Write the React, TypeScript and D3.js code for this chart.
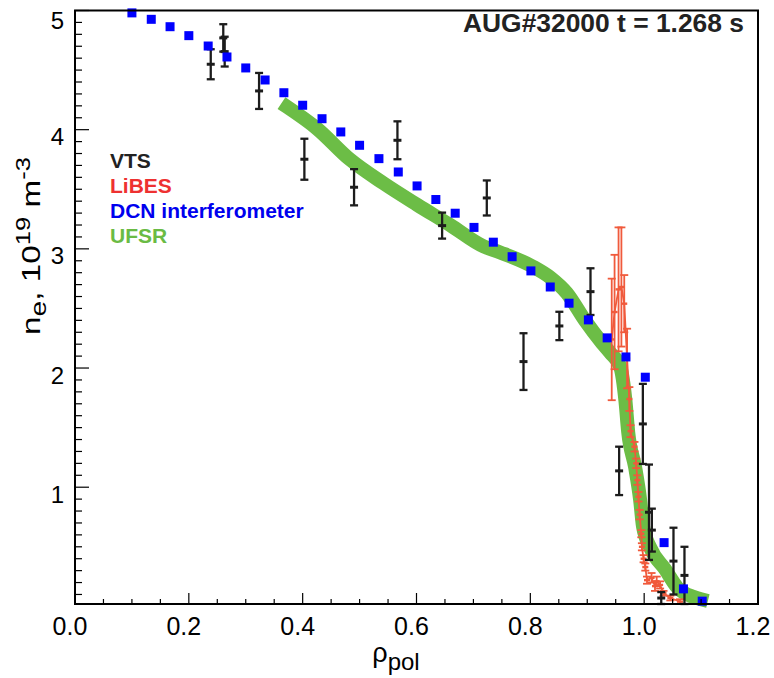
import React from 'react';
import * as d3 from 'd3';

const W = 774;
const H = 678;
const FONT = "'Liberation Sans', Arial, Helvetica, sans-serif";

// DCN interferometer
const dcnRho = [0.100, 0.134, 0.167, 0.200, 0.234, 0.267, 0.300, 0.334, 0.367, 0.400, 0.434, 0.467, 0.500, 0.534, 0.568, 0.601, 0.634, 0.668, 0.701, 0.735, 0.768, 0.801, 0.835, 0.868, 0.902, 0.935, 0.968, 1.002, 1.035, 1.069, 1.102];
const dcnNe = [4.98, 4.926, 4.864, 4.789, 4.702, 4.61, 4.518, 4.417, 4.31, 4.205, 4.092, 3.981, 3.869, 3.757, 3.645, 3.528, 3.414, 3.299, 3.18, 3.056, 2.934, 2.815, 2.68, 2.544, 2.404, 2.253, 2.093, 1.923, 0.535, 0.147, 0.044];

// UFSR (reflectometry) profile
const ufsrRho = [0.373, 0.425, 0.483, 0.542, 0.601, 0.659, 0.718, 0.747, 0.805, 0.835, 0.864, 0.896, 0.926, 0.940, 0.958, 0.967, 0.972, 0.984, 0.993, 0.998, 1.011, 1.037, 1.058, 1.086, 1.100];
const ufsrNe = [4.19, 4.01, 3.75, 3.55, 3.37, 3.20, 3.02, 2.97, 2.85, 2.76, 2.63, 2.40, 2.21, 2.13, 2.01, 1.73, 1.46, 1.17, 0.89, 0.67, 0.49, 0.31, 0.16, 0.08, 0.06];

// VTS (Thomson scattering)
const vtsRho = [0.2385, 0.2605, 0.263, 0.3234, 0.403, 0.4903, 0.5665, 0.645, 0.7235, 0.788, 0.851, 0.9057, 0.956, 0.9977, 1.0085, 1.0135, 1.030, 1.0515, 1.0708];
const vtsNe = [4.549, 4.77, 4.655, 4.325, 3.752, 3.517, 3.911, 3.195, 3.427, 2.054, 2.353, 2.641, 1.137, 1.531, 0.79, 0.64, 0.07, 0.38, 0.26];
const vtsErr = [0.126, 0.115, 0.125, 0.151, 0.172, 0.152, 0.159, 0.109, 0.147, 0.238, 0.119, 0.196, 0.203, 0.336, 0.40, 0.18, 0.05, 0.28, 0.24];

// LiBES (lithium beam)
const libesRho = [0.943, 0.948, 0.955, 0.960, 0.965, 0.970, 0.974, 0.976, 0.983, 0.986, 0.988, 0.990, 0.992, 0.995, 0.996, 0.999, 1.002, 1.005, 1.013, 1.019, 1.022, 1.028, 1.034, 1.046, 1.063];
const libesNe = [2.24, 2.47, 2.66, 2.68, 2.54, 2.08, 1.74, 1.47, 1.34, 1.20, 1.06, 0.92, 0.77, 0.61, 0.50, 0.40, 0.33, 0.22, 0.24, 0.17, 0.21, 0.18, 0.11, 0.07, 0.04];
const libesErr = [0.51, 0.48, 0.52, 0.50, 0.24, 0.25, 0.10, 0.05, 0.04, 0.04, 0.04, 0.04, 0.04, 0.03, 0.03, 0.03, 0.03, 0.03, 0.04, 0.04, 0.04, 0.03, 0.02, 0.02, 0.02];

const xTickLabels = ['0.0', '0.2', '0.4', '0.6', '0.8', '1.0', '1.2'];
const yTickLabels = ['1', '2', '3', '4', '5'];
const legendLabels = ['VTS', 'LiBES', 'DCN interferometer', 'UFSR'];
const legendColors = ['#222222', '#ee3131', '#0000ee', '#6abb44'];

const X0 = 0, X1 = 1.2, Y0 = 0.02, Y1 = 5.0;
const L = 75, R = 758, T = 10.5, B = 604;

export default function App() {
  const x = d3.scaleLinear().domain([X0, X1]).range([L, R]);
  const y = d3.scaleLinear().domain([Y0, Y1]).range([B, T]);
  const cy = (v: number) => y(Math.max(Y0, Math.min(Y1, v)));

  const green = '#6cbd46';
  const red = '#f05a3c';
  const black = '#1c1c1c';
  const blue = '#0000ff';

  const ufsrPath = d3.line<number>()
    .x((_, i) => x(ufsrRho[i]))
    .y((_, i) => y(ufsrNe[i]))
    .curve(d3.curveMonotoneX)(ufsrRho) || '';

  const libesPath = d3.line<number>()
    .x((_, i) => x(libesRho[i]))
    .y((_, i) => y(libesNe[i]))(libesRho) || '';

  const xMinor = d3.range(0, 24).map(i => i * 0.05).filter(v => Math.abs(v / 0.2 - Math.round(v / 0.2)) > 1e-6);
  const yMinor = d3.range(1, 50).map(i => i * 0.1).filter(v => Math.abs(v - Math.round(v)) > 1e-6);

  return (
    <svg width={W} height={H} style={{ position: 'absolute', left: 0, top: 0, background: '#fff' }} fontFamily={FONT}>
      <rect x={0} y={0} width={W} height={H} fill="#fff" />
      {/* UFSR band */}
      <path d={ufsrPath} fill="none" stroke={green} strokeWidth={14} strokeLinecap="square" strokeLinejoin="round" />

      {/* LiBES */}
      <g stroke={red} strokeWidth={1.8} fill="none">
        <path d={libesPath} />
        {libesRho.map((r, i) => {
          const px = x(r);
          const yt = cy(libesNe[i] + libesErr[i]);
          const yb = cy(libesNe[i] - libesErr[i]);
          return (
            <g key={i}>
              <line x1={px} x2={px} y1={yt} y2={yb} />
              <line x1={px - 4} x2={px + 4} y1={yt} y2={yt} />
              <line x1={px - 4} x2={px + 4} y1={yb} y2={yb} />
              <line x1={px - 3} x2={px + 3} y1={y(libesNe[i])} y2={y(libesNe[i])} strokeWidth={2.4} />
            </g>
          );
        })}
      </g>

      {/* VTS */}
      <g stroke={black} strokeWidth={2.3} fill="none">
        {vtsRho.map((r, i) => {
          const px = x(r);
          const yt = cy(vtsNe[i] + vtsErr[i]);
          const yb = cy(vtsNe[i] - vtsErr[i]);
          return (
            <g key={i}>
              <line x1={px} x2={px} y1={yt} y2={yb} />
              <line x1={px - 4} x2={px + 4} y1={yt} y2={yt} />
              <line x1={px - 4} x2={px + 4} y1={yb} y2={yb} />
              <line x1={px - 4} x2={px + 4} y1={y(vtsNe[i])} y2={y(vtsNe[i])} strokeWidth={3} />
            </g>
          );
        })}
      </g>

      {/* DCN */}
      <g fill={blue}>
        {dcnRho.map((r, i) => (
          <rect key={i} x={x(r) - 4.5} y={y(dcnNe[i]) - 4.5} width={9} height={9} />
        ))}
      </g>

      {/* Frame */}
      <rect x={L} y={T} width={R - L} height={B - T} fill="none" stroke="#000" strokeWidth={2} />

      {/* Ticks */}
      <g stroke="#000" strokeWidth={1.2}>
        {xTickLabels.map((t, i) => (
          <line key={'xM' + i} x1={x(+t)} x2={x(+t)} y1={B} y2={B - 11} />
        ))}
        {xMinor.map((v, i) => (
          <line key={'xm' + i} x1={x(v)} x2={x(v)} y1={B} y2={B - 5} />
        ))}
        {yTickLabels.map((t, i) => (
          <line key={'yM' + i} x1={L} x2={L + 14} y1={y(+t)} y2={y(+t)} />
        ))}
        {yMinor.map((v, i) => (
          <line key={'ym' + i} x1={L} x2={L + 7} y1={y(v)} y2={y(v)} />
        ))}
      </g>

      {/* Tick labels */}
      <g fill="#000">
        {xTickLabels.map((t, i) => (
          <text key={'xl' + i} x={x(+t) - 5} y={635} fontSize={25} textAnchor="middle">{t}</text>
        ))}
        {yTickLabels.map((t, i) => (
          <text key={'yl' + i} x={64} y={Math.max(y(+t) + 7, 20)} fontSize={24} textAnchor="end" dominantBaseline="central">{t}</text>
        ))}
      </g>

      {/* Axis titles */}
      <text x={396} y={662} fontSize={27} textAnchor="middle" fill="#000">
        ρ<tspan fontSize={24} dy={8}>pol</tspan>
      </text>
      <text transform="translate(40,246) rotate(-90) scale(1.28,1)" fontSize={26} textAnchor="middle" fill="#000">
        n<tspan fontSize={22} dy={6}>e</tspan><tspan dy={-6}>, 10</tspan><tspan fontSize={20} dy={-10}>19</tspan><tspan dy={10}> m</tspan><tspan fontSize={20} dy={-10}>-3</tspan>
      </text>

      {/* Title */}
      <text x={744} y={32} fontSize={25} fontWeight="bold" textAnchor="end" fill="#222" textLength={281} lengthAdjust="spacingAndGlyphs">AUG#32000 t = 1.268 s</text>

      {/* Legend */}
      <g fontSize={21} fontWeight="bold">
        {legendLabels.map((l, i) => (
          <text key={l} x={110} y={168 + i * 25} fill={legendColors[i]}>{l}</text>
        ))}
      </g>
    </svg>
  );
}
